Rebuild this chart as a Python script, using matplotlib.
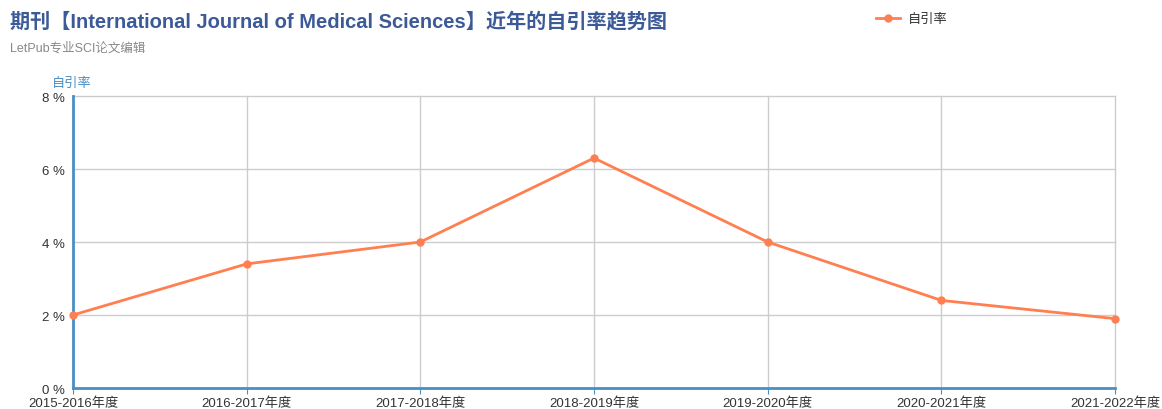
import matplotlib
matplotlib.use("Agg")
import matplotlib.pyplot as plt

plt.rcParams['font.family'] = ['Liberation Sans', 'Noto Sans CJK SC', 'DejaVu Sans']

years = ['2015-2016年度', '2016-2017年度', '2017-2018年度', '2018-2019年度',
         '2019-2020年度', '2020-2021年度', '2021-2022年度']
self_cite = [2.0, 3.4, 4.0, 6.3, 4.0, 2.4, 1.9]
yticks = [0, 2, 4, 6, 8]

line_col = '#ff7f50'
axis_col = '#4a8fc4'
grid_col = '#cccccc'

fig = plt.figure(figsize=(11.62, 4.10), dpi=100)
ax = fig.add_axes([0.0628, 0.0512, 0.8968, 0.7122])

x = list(range(len(years)))
ax.plot(x, self_cite, color=line_col, lw=2, marker='o', ms=5, label='自引率',
        zorder=3, clip_on=False)

ax.set_xlim(0, len(years) - 1)
ax.set_ylim(0, 8)
ax.set_xticks(x)
ax.set_xticklabels(years, fontsize=9.5, color='#333333')
ax.set_yticks(yticks)
ax.set_yticklabels([f'{v} %' for v in yticks], fontsize=9.5, color='#333333')
ax.grid(True, color=grid_col, lw=1)
ax.set_axisbelow(True)
for gl in ax.get_xgridlines() + ax.get_ygridlines():
    gl.set_clip_on(False)

for s in ['top', 'right']:
    ax.spines[s].set_visible(False)
ax.spines['left'].set_color(axis_col)
ax.spines['left'].set_linewidth(2)
ax.spines['bottom'].set_color(axis_col)
ax.spines['bottom'].set_linewidth(2)
ax.tick_params(axis='x', length=4, color=axis_col, pad=2)
ax.tick_params(axis='y', length=0, pad=6)

fig.text(0.009, 0.948, '期刊【International Journal of Medical Sciences】近年的自引率趋势图',
         fontsize=14.5, fontweight='bold', color='#3d5a98', va='center')
fig.text(0.009, 0.882, 'LetPub专业SCI论文编辑', fontsize=9, color='#888888', va='center')
fig.text(0.045, 0.795, '自引率', fontsize=9.5, color=axis_col, va='center')

fig.legend(loc='center', bbox_to_anchor=(0.785, 0.951), frameon=False, fontsize=9.5,
           handlelength=1.8, handletextpad=0.6, labelcolor='#333333')

fig.savefig('out.png', dpi=100)
